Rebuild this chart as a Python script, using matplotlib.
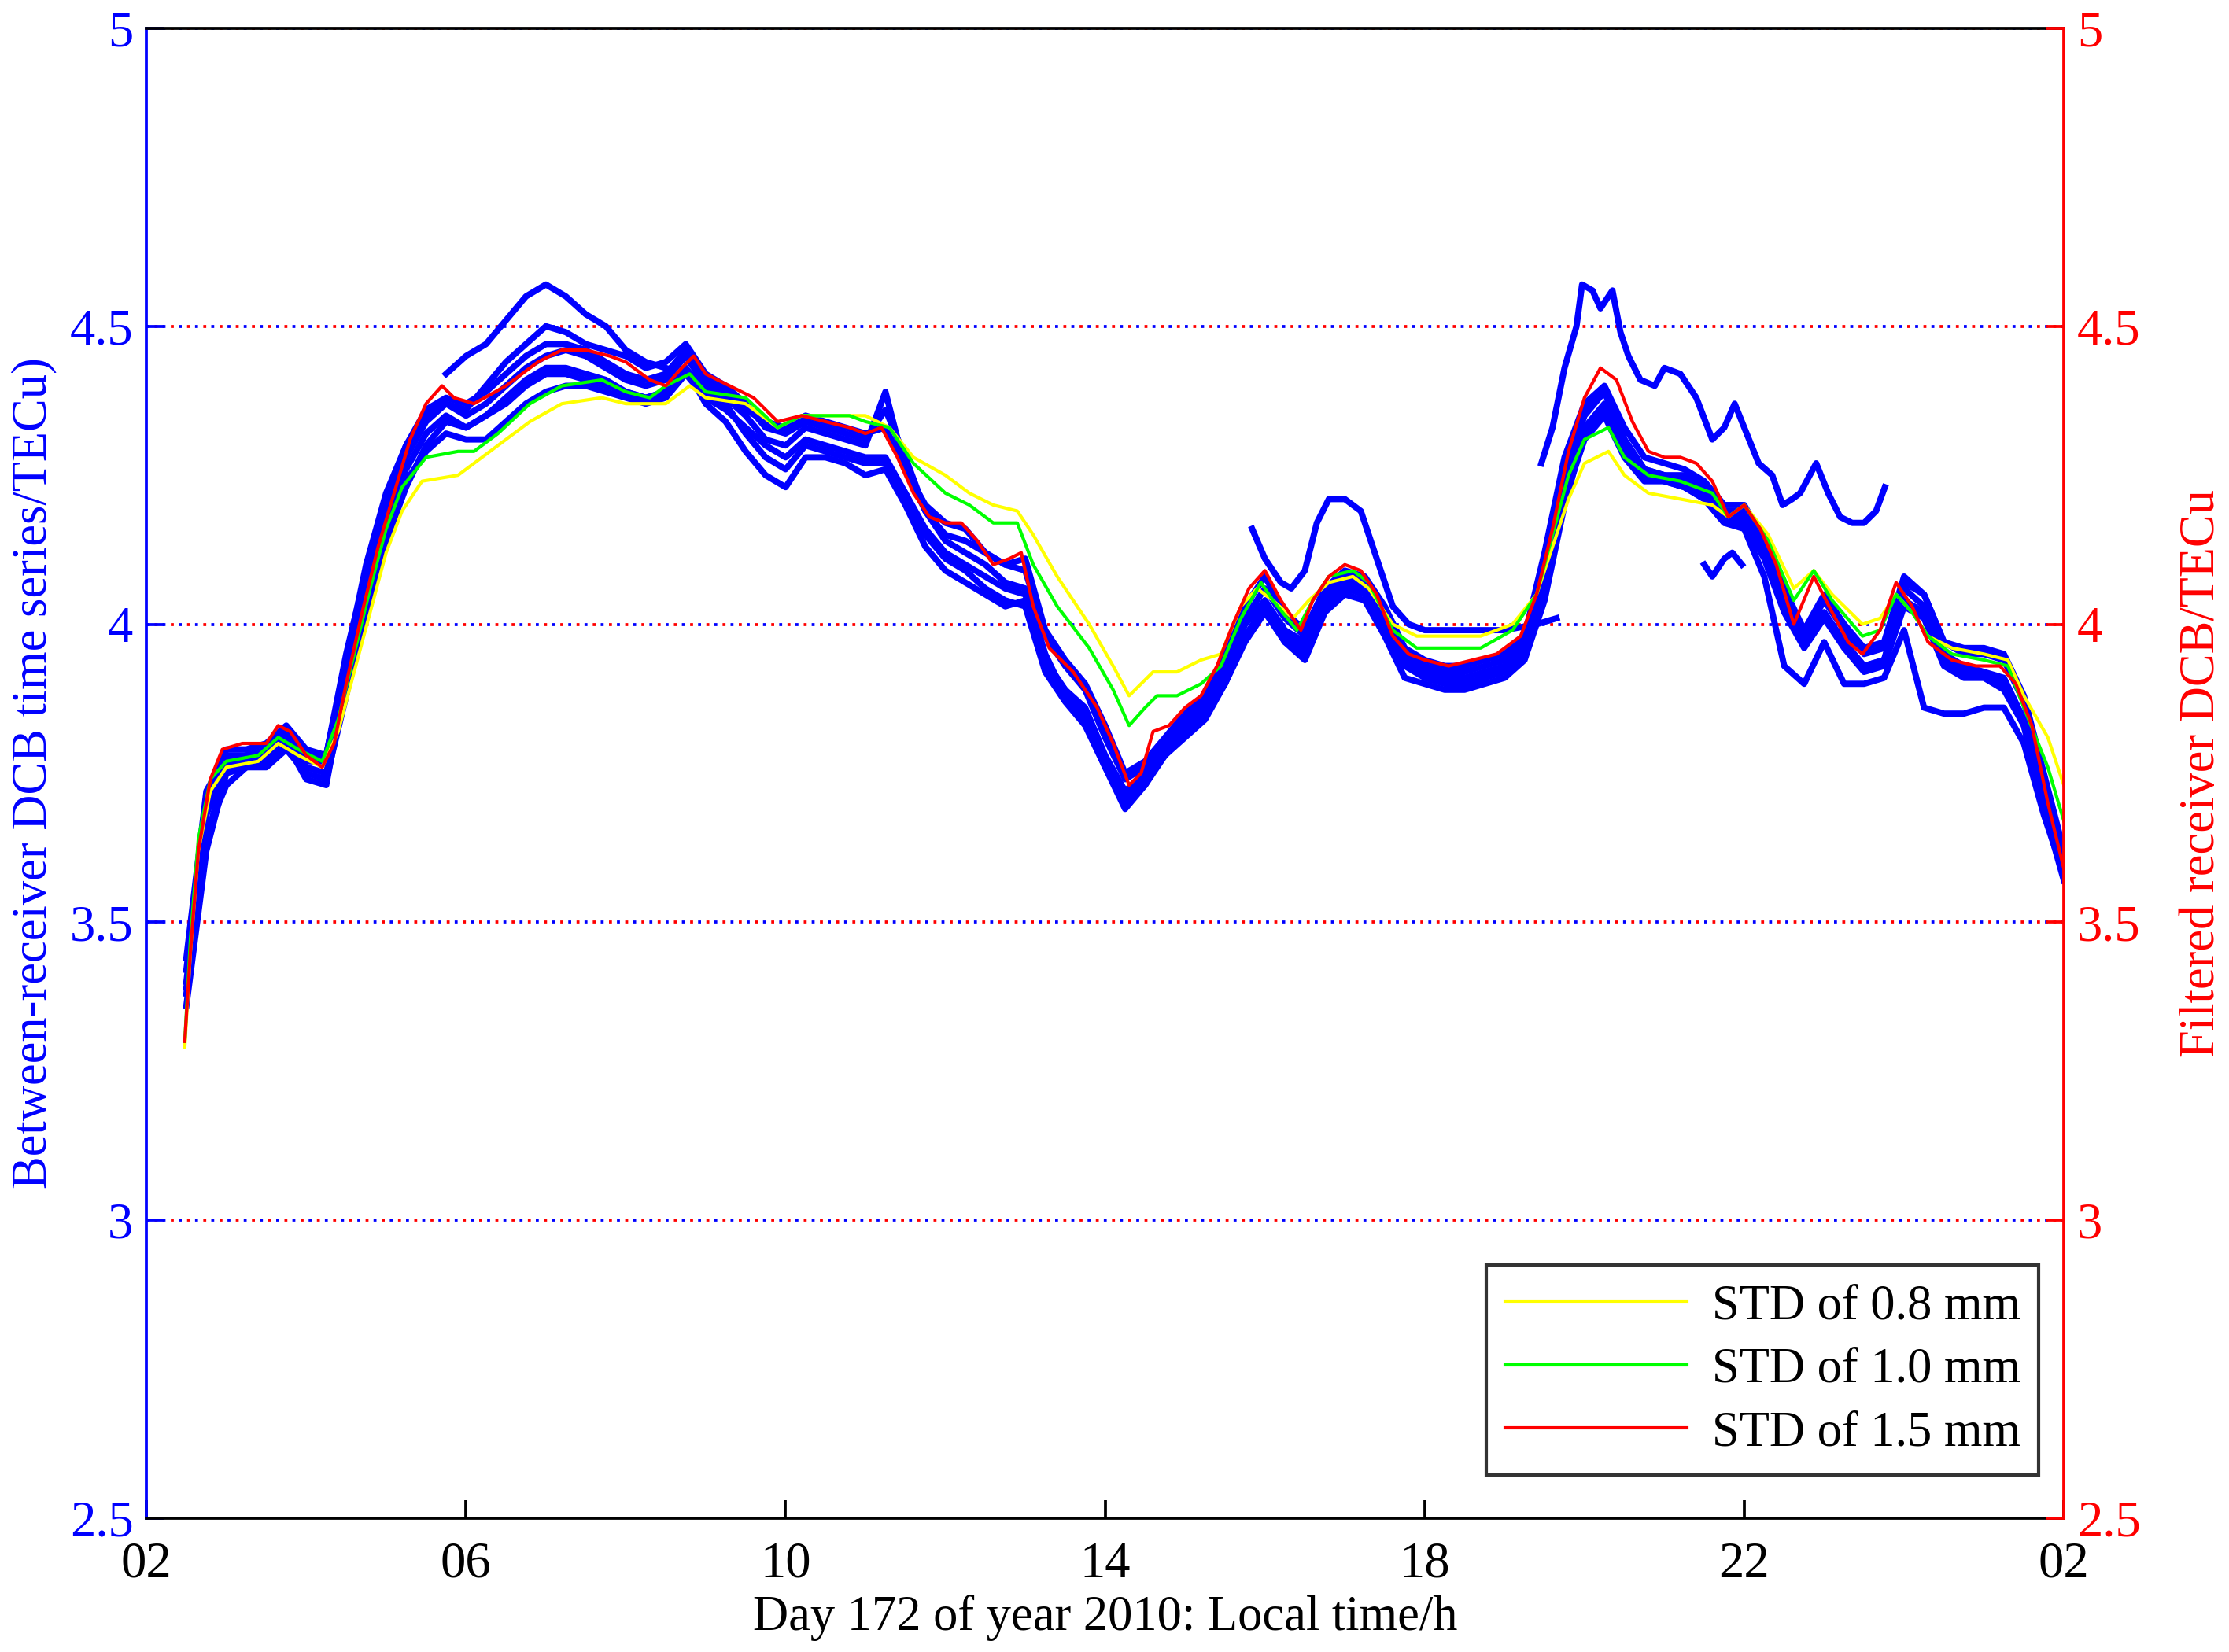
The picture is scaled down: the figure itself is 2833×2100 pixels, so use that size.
import matplotlib
matplotlib.use("Agg")
import matplotlib.pyplot as plt
import numpy as np

plt.rcParams['font.family'] = ['Liberation Serif', 'DejaVu Serif']

# Between-receiver DCB series, sampled every 15 min from 02:30 to 02:00 (next day)
hours = np.linspace(2.5, 26.0, 95)

rcv1 = [3.42, 3.70, 3.79, 3.79, 3.80, 3.83, 3.79, 3.78, 3.95, 4.09,
        4.21, 4.30, 4.36, 4.38, 4.37, 4.39, 4.42, 4.45, 4.47, 4.47,
        4.46, 4.44, 4.42, 4.41, 4.42, 4.46, 4.41, 4.39, 4.36, 4.34,
        4.33, 4.35, 4.34, 4.33, 4.32, 4.33, 4.26, 4.20, 4.17, 4.16,
        4.12, 4.10, 4.11, 3.99, 3.94, 3.90, 3.83, 3.75, 3.77, 3.81,
        3.85, 3.88, 3.95, 4.03, 4.08, 4.02, 3.99, 4.06, 4.09, 4.08,
        4.03, 3.96, 3.94, 3.93, 3.93, 3.94, 3.95, 3.98, 4.12, 4.28,
        4.37, 4.40, 4.33, 4.28, 4.27, 4.26, 4.24, 4.20, 4.20, 4.14,
        4.06, 3.99, 4.05, 4.00, 3.96, 3.97, 4.08, 4.05, 3.97, 3.95,
        3.95, 3.94, 3.87, 3.74, 3.62]
rcv2 = [3.38, 3.64, 3.76, 3.77, 3.77, 3.80, 3.76, 3.75, 3.90, 4.04,
        4.15, 4.24, 4.29, 4.32, 4.31, 4.31, 4.34, 4.37, 4.39, 4.40,
        4.40, 4.39, 4.38, 4.37, 4.38, 4.42, 4.38, 4.36, 4.33, 4.30,
        4.28, 4.31, 4.30, 4.29, 4.28, 4.28, 4.22, 4.16, 4.12, 4.10,
        4.08, 4.06, 4.05, 3.94, 3.89, 3.85, 3.77, 3.70, 3.73, 3.78,
        3.82, 3.85, 3.90, 3.98, 4.03, 3.97, 3.95, 4.03, 4.06, 4.05,
        4.00, 3.93, 3.91, 3.90, 3.90, 3.91, 3.92, 3.95, 4.05, 4.21,
        4.31, 4.35, 4.28, 4.24, 4.24, 4.23, 4.21, 4.17, 4.17, 4.11,
        4.02, 3.96, 4.01, 3.96, 3.92, 3.93, 4.03, 4.01, 3.93, 3.91,
        3.91, 3.89, 3.83, 3.70, 3.58]
rcv3 = [3.44, 3.72, 3.78, 3.78, 3.79, 3.82, 3.78, 3.78, 3.94, 4.10,
        4.22, 4.30, 4.35, 4.37, 4.36, 4.40, 4.44, 4.47, 4.50, 4.49,
        4.47, 4.46, 4.45, 4.43, 4.44, 4.47, 4.42, 4.40, 4.37, 4.33,
        4.32, 4.34, 4.33, 4.32, 4.31, 4.36, 4.28, 4.19, 4.14, 4.12,
        4.10, 4.07, 4.06, 3.95, 3.88, 3.84, 3.76, 3.69, 3.73, 3.79,
        3.83, 3.86, 3.92, 4.00, 4.04, 3.98, 3.96, 4.04, 4.07, 4.06,
        4.01, 3.93, 3.92, 3.91, 3.91, 3.92, 3.93, 3.97, 4.10, 4.26,
        4.36, 4.39, 4.31, 4.26, 4.25, 4.24, 4.22, 4.18, 4.18, 4.12,
        4.03, 3.97, 4.02, 3.97, 3.93, 3.94, 4.06, 4.03, 3.95, 3.93,
        3.92, 3.91, 3.84, 3.71, 3.59]
rcv4 = [3.36, 3.62, 3.75, 3.76, 3.76, 3.79, 3.75, 3.74, 3.88, 4.02,
        4.14, 4.23, 4.30, 4.34, 4.33, 4.35, 4.38, 4.41, 4.43, 4.43,
        4.42, 4.41, 4.39, 4.38, 4.39, 4.43, 4.39, 4.37, 4.32, 4.28,
        4.26, 4.30, 4.29, 4.28, 4.27, 4.27, 4.22, 4.15, 4.11, 4.09,
        4.06, 4.04, 4.03, 3.92, 3.87, 3.83, 3.76, 3.71, 3.74, 3.78,
        3.81, 3.84, 3.90, 3.97, 4.02, 3.97, 3.94, 4.02, 4.05, 4.04,
        3.98, 3.91, 3.90, 3.89, 3.89, 3.90, 3.91, 3.94, 4.04, 4.20,
        4.32, 4.36, 4.29, 4.25, 4.24, 4.23, 4.21, 4.17, 4.16, 4.08,
        3.93, 3.90, 3.97, 3.90, 3.90, 3.91, 3.99, 3.86, 3.85, 3.85,
        3.86, 3.86, 3.80, 3.68, 3.58]
rcv5 = [3.40, 3.68, 3.77, 3.78, 3.78, 3.81, 3.77, 3.77, 3.93, 4.07,
        4.19, 4.28, 4.34, 4.37, 4.35, 4.37, 4.40, 4.43, 4.45, 4.46,
        4.45, 4.43, 4.41, 4.40, 4.41, 4.45, 4.40, 4.38, 4.35, 4.31,
        4.30, 4.33, 4.32, 4.31, 4.30, 4.39, 4.26, 4.19, 4.15, 4.14,
        4.12, 4.10, 4.09, 3.98, 3.93, 3.89, 3.81, 3.74, 3.76, 3.80,
        3.84, 3.87, 3.93, 4.01, 4.06, 4.01, 3.98, 4.05, 4.08, 4.07,
        4.02, 3.95, 3.93, 3.92, 3.92, 3.93, 3.94, 3.97, 4.09, 4.25,
        4.35, 4.39, 4.31, 4.26, 4.25, 4.25, 4.23, 4.19, 4.19, 4.13,
        4.05, 3.98, 4.04, 3.99, 3.95, 3.96, 4.07, 4.05, 3.97, 3.96,
        3.96, 3.95, 3.88, 3.75, 3.62]
rcv6 = [3.39, 3.65, 3.73, 3.76, 3.77, 3.80, 3.74, 3.73, 3.91, 4.05,
        4.17, 4.26, 4.32, 4.35, 4.33, 4.35, 4.37, 4.40, 4.42, 4.42,
        4.41, 4.40, 4.39, 4.38, 4.39, 4.43, 4.37, 4.34, 4.29, 4.25,
        4.23, 4.28, 4.28, 4.27, 4.25, 4.26, 4.20, 4.13, 4.09, 4.07,
        4.05, 4.03, 4.04, 3.93, 3.89, 3.86, 3.78, 3.72, 3.75, 3.79,
        3.83, 3.86, 3.92, 4.00, 4.04, 3.99, 3.97, 4.04, 4.07, 4.06,
        4.01, 3.94, 3.92, 3.91, 3.90, 3.91, 3.93, 3.96, 4.07, 4.23,
        4.33, 4.37, 4.30, 4.25, 4.24, 4.24, 4.22, 4.18, 4.18, 4.12,
        4.03, 3.97, 4.02, 3.97, 3.93, 3.94, 4.04, 4.02, 3.94, 3.92,
        3.92, 3.90, 3.83, 3.69, 3.57]

# partial receiver arcs that sit apart from the main bundle
arc1_t = [5.75, 6.0, 6.25, 6.5, 6.75, 7.0, 7.25, 7.5, 7.75, 8.0, 8.25, 8.5]
arc1_v = [4.42, 4.45, 4.47, 4.51, 4.55, 4.57, 4.55, 4.52, 4.50, 4.46, 4.44, 4.43]
arc2_t = [15.84, 16.0, 16.2, 16.33, 16.5, 16.65, 16.8, 17.0, 17.2, 17.4, 17.6, 17.8,
          18.0, 18.5, 19.0, 19.4, 19.65]
arc2_v = [4.16, 4.11, 4.07, 4.06, 4.09, 4.17, 4.21, 4.21, 4.19, 4.11, 4.03, 4.00,
          3.99, 3.99, 3.99, 4.00, 4.01]
arc3_t = [19.46, 19.6, 19.75, 19.9, 19.97, 20.1, 20.2, 20.35, 20.45, 20.55, 20.7,
          20.88, 21.0, 21.2, 21.4, 21.6, 21.75, 21.88, 22.0, 22.18, 22.35, 22.48,
          22.6, 22.7, 22.9, 23.05, 23.2, 23.35, 23.5, 23.65, 23.76]
arc3_v = [4.27, 4.33, 4.43, 4.50, 4.57, 4.56, 4.53, 4.56, 4.49, 4.45, 4.41,
          4.40, 4.43, 4.42, 4.38, 4.31, 4.33, 4.37, 4.33, 4.27, 4.25, 4.20,
          4.21, 4.22, 4.27, 4.22, 4.18, 4.17, 4.17, 4.19, 4.23]
arc4_t = [21.5, 21.6, 21.75, 21.85, 21.97]
arc4_v = [4.10, 4.08, 4.11, 4.12, 4.10]

# Filtered receiver DCB for three noise levels
std08_t = [2.48, 2.55, 2.65, 2.8, 3.0, 3.4, 3.65, 3.9, 4.2, 4.4, 4.6, 4.8, 5.0, 5.2,
           5.45, 5.9, 6.1, 6.4, 6.8, 7.2, 7.7, 8.0, 8.5, 8.8, 9.0, 9.5, 9.9, 10.2,
           11.0, 11.3, 11.6, 12.0, 12.3, 12.6, 12.9, 13.1, 13.4, 13.8, 14.1, 14.3,
           14.45, 14.6, 14.9, 15.2, 15.45, 15.7, 15.9, 16.1, 16.35, 16.55, 16.8,
           17.1, 17.3, 17.6, 17.9, 18.3, 18.7, 19.1, 19.4, 19.6, 19.8, 20.0, 20.3,
           20.5, 20.8, 21.2, 21.6, 21.8, 22.0, 22.3, 22.62, 22.87, 23.1, 23.48,
           23.7, 23.9, 24.1, 24.3, 24.6, 25.0, 25.3, 25.5, 25.8, 26.0]
std08_v = [3.29, 3.45, 3.62, 3.72, 3.76, 3.77, 3.80, 3.78, 3.76, 3.82, 3.92, 4.02, 4.12, 4.19,
           4.24, 4.25, 4.27, 4.30, 4.34, 4.37, 4.38, 4.37, 4.37, 4.40, 4.38, 4.37, 4.33, 4.35,
           4.35, 4.33, 4.28, 4.25, 4.22, 4.20, 4.19, 4.15, 4.08, 4.00, 3.93, 3.88,
           3.90, 3.92, 3.92, 3.94, 3.95, 4.03, 4.06, 4.04, 4.01, 4.04, 4.07,
           4.08, 4.06, 4.00, 3.98, 3.98, 3.98, 4.00, 4.05, 4.13, 4.21, 4.27, 4.29,
           4.25, 4.22, 4.21, 4.20, 4.18, 4.20, 4.15, 4.06, 4.09, 4.05, 4.00,
           4.01, 4.05, 4.02, 3.98, 3.96, 3.95, 3.94, 3.88, 3.81, 3.73]
std10_t = [2.48, 2.55, 2.65, 2.8, 3.0, 3.4, 3.65, 3.9, 4.2, 4.4, 4.6, 4.8, 5.0, 5.2,
           5.5, 5.9, 6.1, 6.4, 6.8, 7.2, 7.7, 8.0, 8.3, 8.5, 8.8, 9.0, 9.5, 9.9,
           10.2, 10.8, 11.0, 11.3, 11.6, 12.0, 12.3, 12.6, 12.9, 13.1, 13.4, 13.8,
           14.1, 14.3, 14.5, 14.65, 14.9, 15.2, 15.45, 15.7, 15.95, 16.1, 16.4,
           16.6, 16.8, 17.1, 17.3, 17.6, 17.9, 18.3, 18.7, 19.1, 19.4, 19.6, 19.8,
           20.0, 20.3, 20.5, 20.8, 21.2, 21.6, 21.8, 22.0, 22.3, 22.62, 22.87, 23.1,
           23.48, 23.7, 23.9, 24.1, 24.3, 24.6, 25.0, 25.3, 25.5, 25.8, 26.0]
std10_v = [3.30, 3.47, 3.64, 3.74, 3.77, 3.78, 3.81, 3.79, 3.77, 3.84, 3.95, 4.06, 4.16, 4.23,
           4.28, 4.29, 4.29, 4.32, 4.37, 4.40, 4.41, 4.39, 4.38, 4.40, 4.42, 4.39, 4.38, 4.33,
           4.35, 4.35, 4.34, 4.33, 4.27, 4.22, 4.20, 4.17, 4.17, 4.10, 4.03, 3.96,
           3.89, 3.83, 3.86, 3.88, 3.88, 3.90, 3.93, 4.01, 4.07, 4.04, 3.99,
           4.04, 4.08, 4.09, 4.07, 3.99, 3.96, 3.96, 3.96, 3.99, 4.05, 4.15, 4.25,
           4.31, 4.33, 4.28, 4.25, 4.24, 4.22, 4.18, 4.20, 4.14, 4.04, 4.09, 4.04,
           3.98, 3.99, 4.05, 4.02, 3.98, 3.95, 3.94, 3.93, 3.86, 3.76, 3.67]
std15_t = [2.48, 2.55, 2.65, 2.8, 2.95, 3.2, 3.5, 3.65, 3.8, 4.0, 4.2, 4.35, 4.5, 4.7,
           4.9, 5.1, 5.3, 5.5, 5.7, 5.85, 6.1, 6.5, 6.9, 7.2, 7.5, 7.8, 8.0, 8.3,
           8.5, 8.7, 8.85, 9.0, 9.3, 9.6, 9.9, 10.2, 10.5, 10.8, 11.0, 11.2, 11.4,
           11.6, 11.8, 12.0, 12.2, 12.4, 12.6, 12.8, 12.95, 13.1, 13.3, 13.6, 13.9,
           14.1, 14.3, 14.45, 14.6, 14.8, 15.0, 15.2, 15.4, 15.6, 15.8, 16.0, 16.2,
           16.45, 16.6, 16.8, 17.0, 17.2, 17.4, 17.6, 17.8, 18.0, 18.3, 18.6, 18.9,
           19.2, 19.4, 19.6, 19.8, 20.0, 20.2, 20.4, 20.6, 20.8, 21.0, 21.2, 21.4,
           21.6, 21.8, 22.0, 22.2, 22.4, 22.62, 22.87, 23.1, 23.3, 23.48, 23.7,
           23.9, 24.1, 24.3, 24.6, 24.9, 25.2, 25.4, 25.6, 25.8, 26.0]
std15_v = [3.30, 3.45, 3.62, 3.74, 3.79, 3.80, 3.80, 3.83, 3.82, 3.78, 3.76, 3.80, 3.90, 4.02,
           4.13, 4.22, 4.31, 4.37, 4.40, 4.38, 4.37, 4.40, 4.44, 4.46, 4.46, 4.45, 4.44, 4.41,
           4.40, 4.43, 4.45, 4.42, 4.40, 4.38, 4.34, 4.35, 4.34, 4.33, 4.32, 4.33, 4.28,
           4.22, 4.18, 4.17, 4.17, 4.14, 4.10, 4.11, 4.12, 4.03, 3.96, 3.92, 3.86,
           3.80, 3.73, 3.75, 3.82, 3.83, 3.86, 3.88, 3.93, 4.00, 4.06, 4.09, 4.04,
           3.99, 4.04, 4.08, 4.10, 4.09, 4.05, 3.98, 3.95, 3.94, 3.93, 3.94, 3.95,
           3.98, 4.05, 4.16, 4.29, 4.38, 4.43, 4.41, 4.34, 4.29, 4.28, 4.28, 4.27,
           4.24, 4.18, 4.20, 4.16, 4.10, 4.00, 4.08, 4.02, 3.97, 3.95, 3.99,
           4.07, 4.03, 3.97, 3.94, 3.93, 3.93, 3.90, 3.83, 3.70, 3.59]

xtick_pos = [2, 6, 10, 14, 18, 22, 26]
xtick_lab = ["02", "06", "10", "14", "18", "22", "02"]
ytick_pos = [2.5, 3, 3.5, 4, 4.5, 5]
ytick_lab = ["2.5", "3", "3.5", "4", "4.5", "5"]

fig = plt.figure(figsize=(2833 / 300, 2100 / 300), dpi=300)
ax = fig.add_axes([0.0657, 0.081, 0.8602, 0.9019])
ax2 = ax.twinx()

# receivers (left axis)
for series in [rcv1, rcv2, rcv3, rcv4, rcv5, rcv6]:
    ax.plot(hours, series, color='b', lw=1.9, zorder=3)
for tt, vv in [(arc1_t, arc1_v), (arc2_t, arc2_v), (arc3_t, arc3_v), (arc4_t, arc4_v)]:
    ax.plot(tt, vv, color='b', lw=1.9, zorder=3)

# filtered (right axis, drawn on top)
ax2.plot(std08_t, std08_v, color=(1, 1, 0), lw=1.0, label='STD of 0.8 mm')
ax2.plot(std10_t, std10_v, color=(0, 1, 0), lw=1.0, label='STD of 1.0 mm')
ax2.plot(std15_t, std15_v, color=(1, 0, 0), lw=1.0, label='STD of 1.5 mm')

for a in (ax, ax2):
    a.set_xlim(2, 26)
    a.set_ylim(2.5, 5)
    a.set_yticks(ytick_pos)
    a.set_yticklabels(ytick_lab)

ax.set_xticks(xtick_pos)
ax.set_xticklabels(xtick_lab)

# dotted grid from both axes (blue + red interleaved)
for y in ytick_pos:
    ax.axhline(y, color='b', lw=0.9, ls=(0, (1.0, 4.5)), zorder=1)
    ax.axhline(y, color='r', lw=0.9, ls=(2.7, (1.0, 4.5)), zorder=1)

ax.spines['left'].set_color('b')
ax.spines['right'].set_visible(False)
ax.spines['top'].set_color('k')
ax.spines['bottom'].set_color('k')
ax2.spines['left'].set_visible(False)
ax2.spines['top'].set_visible(False)
ax2.spines['bottom'].set_visible(False)
ax2.spines['right'].set_color('r')
for sp in list(ax.spines.values()) + list(ax2.spines.values()):
    sp.set_linewidth(0.9)

ax.tick_params(axis='y', colors='b', direction='in', length=5.5, width=0.9,
               labelsize=15.5, pad=4)
ax.tick_params(axis='x', colors='k', direction='in', length=5.5, width=0.9,
               labelsize=15.5, pad=7)
ax2.tick_params(axis='y', colors='r', direction='in', length=5.5, width=0.9,
                labelsize=15.5, pad=4)

ax.set_xlabel("Day 172 of year 2010: Local time/h", fontsize=15, labelpad=2)
ax.set_ylabel("Between-receiver DCB time series/TECu)", fontsize=15, color='b', labelpad=4)
ax2.set_ylabel("Filtered receiver DCB/TECu", fontsize=15, color='r', labelpad=12)

leg = ax2.legend(loc='lower right', bbox_to_anchor=(0.987, 0.029), borderaxespad=0,
                 fontsize=15, frameon=True, fancybox=False, handlelength=3.7,
                 handletextpad=0.5, labelspacing=0.36, borderpad=0.38)
leg.get_frame().set_edgecolor('k')
leg.get_frame().set_linewidth(1.0)
for line in leg.get_lines():
    line.set_linewidth(1.0)

fig.savefig("out.png", dpi=300)
